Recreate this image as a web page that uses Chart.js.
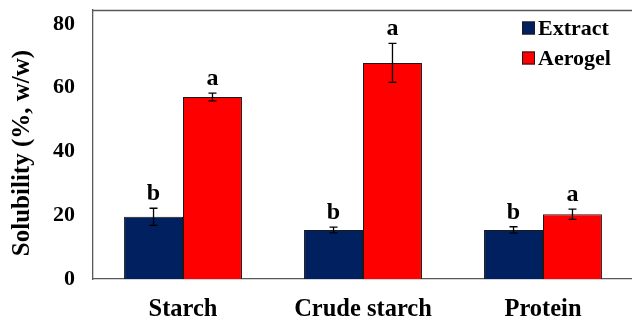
<!DOCTYPE html>
<html>
<head>
<meta charset="utf-8">
<script src="https://cdn.jsdelivr.net/npm/chart.js@4/dist/chart.umd.min.js"></script>
<style>
html,body{margin:0;padding:0;background:#fff;overflow:hidden;}
#wrap{width:632px;height:319px;overflow:hidden;position:relative;}
canvas{display:block;}
</style>
</head>
<body>
<div id="wrap"><canvas id="c" width="640" height="319" style="width:640px;height:319px"></canvas></div>
<script>
const categories = ['Starch', 'Crude starch', 'Protein'];
const seriesNames = ['Extract', 'Aerogel'];
const extractValues = [19.5, 15.4, 15.4];
const extractErrors = [2.7, 0.9, 1.0];
const extractLetters = ['b', 'b', 'b'];
const aerogelValues = [57.1, 67.8, 20.3];
const aerogelErrors = [1.2, 6.1, 1.6];
const aerogelLetters = ['a', 'a', 'a'];
const yTicks = [0, 20, 40, 60, 80];
const yTitle = 'Solubility (%, w/w)';

const SERIF = '"Liberation Serif", "Times New Roman", serif';

const overlay = {
  id: 'overlay',
  afterDatasetsDraw(chart) {
    const ctx = chart.ctx;
    const y = chart.scales.y;
    const ca = chart.chartArea;
    ctx.save();
    // top frame line
    ctx.strokeStyle = '#595959';
    ctx.lineWidth = 1.3;
    ctx.beginPath();
    ctx.moveTo(ca.left, ca.top + 0.5);
    ctx.lineTo(ca.right, ca.top + 0.5);
    ctx.stroke();
    // error bars and letters
    chart.data.datasets.forEach((ds, di) => {
      const meta = chart.getDatasetMeta(di);
      meta.data.forEach((bar, i) => {
        const v = ds.data[i], e = ds.errors[i];
        const x = bar.x;
        const yt = y.getPixelForValue(v + e);
        const yb = y.getPixelForValue(v - e);
        ctx.strokeStyle = '#000';
        ctx.lineWidth = 1.3;
        ctx.beginPath();
        ctx.moveTo(x, yt); ctx.lineTo(x, yb);
        ctx.moveTo(x - 4, yt); ctx.lineTo(x + 4, yt);
        ctx.moveTo(x - 4, yb); ctx.lineTo(x + 4, yb);
        ctx.stroke();
        ctx.fillStyle = '#000';
        ctx.font = 'bold 24px ' + SERIF;
        ctx.textAlign = 'center';
        ctx.textBaseline = 'alphabetic';
        ctx.fillText(ds.letters[i], x, yt - 8);
      });
    });
    // y title
    ctx.save();
    ctx.translate(23, 153);
    ctx.rotate(-Math.PI / 2);
    ctx.font = 'bold 25px ' + SERIF;
    ctx.textAlign = 'center';
    ctx.textBaseline = 'middle';
    ctx.fillStyle = '#000';
    ctx.fillText(yTitle, 0, 0);
    ctx.restore();
    // legend
    chart.data.datasets.forEach((ds, di) => {
      const cy = 28 + di * 30;
      ctx.fillStyle = ds.backgroundColor;
      ctx.fillRect(522, cy - 6.5, 13, 13);
      ctx.strokeStyle = '#1a1a1a';
      ctx.lineWidth = 1;
      ctx.strokeRect(522.5, cy - 6, 12, 12);
      ctx.fillStyle = '#000';
      ctx.font = 'bold 22px ' + SERIF;
      ctx.textAlign = 'left';
      ctx.textBaseline = 'middle';
      ctx.fillText(ds.label, 538, cy + 1);
    });
    ctx.restore();
  }
};

new Chart(document.getElementById('c'), {
  type: 'bar',
  data: {
    labels: categories,
    datasets: [
      { label: seriesNames[0], data: extractValues, errors: extractErrors, letters: extractLetters,
        backgroundColor: '#002060', borderColor: '#1a1a1a', borderWidth: 1 },
      { label: seriesNames[1], data: aerogelValues, errors: aerogelErrors, letters: aerogelLetters,
        backgroundColor: '#FF0000', borderColor: '#1a1a1a', borderWidth: 1 }
    ]
  },
  options: {
    responsive: false,
    animation: false,
    devicePixelRatio: 1,
    layout: { padding: { top: 10, right: 7, left: 0, bottom: 0 } },
    plugins: { legend: { display: false }, tooltip: { enabled: false } },
    datasets: { bar: { categoryPercentage: 0.655, barPercentage: 1.0 } },
    scales: {
      x: {
        grid: { display: false, drawTicks: false },
        border: { display: true, color: '#595959', width: 1.3 },
        ticks: { color: '#000', font: { family: SERIF, size: 24.5, weight: 'bold' }, padding: 16, maxRotation: 0 },
        afterFit(scale) { scale.height = 40; }
      },
      y: {
        min: 0, max: 84.4,
        grid: { display: false, drawTicks: false },
        border: { display: true, color: '#595959', width: 1.3 },
        ticks: { stepSize: 20, color: '#000', font: { family: SERIF, size: 22, weight: 'bold', lineHeight: 0.4 }, padding: 18 },
        afterBuildTicks(scale) { scale.ticks = yTicks.map(v => ({ value: v })); },
        afterFit(scale) { scale.width = 93; scale.paddingTop = 0; scale.paddingBottom = 0; }
      }
    }
  },
  plugins: [overlay]
});
</script>
</body>
</html>
